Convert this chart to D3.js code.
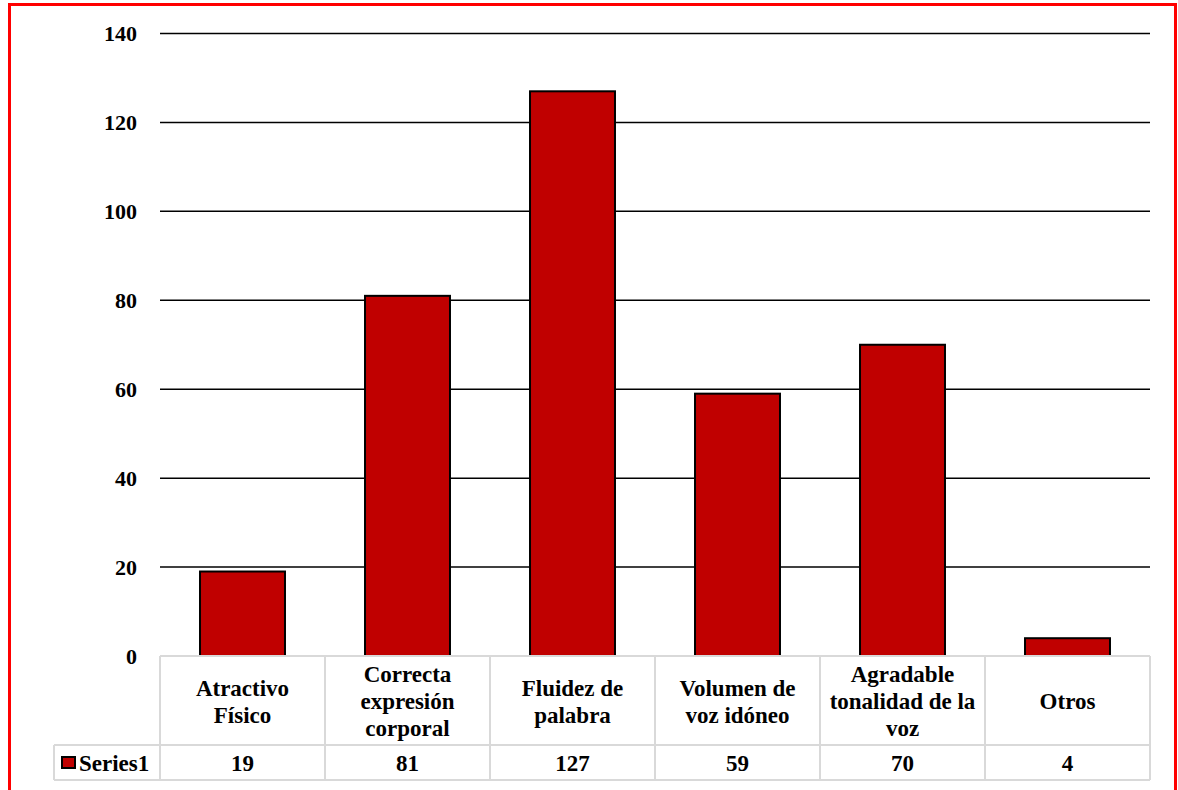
<!DOCTYPE html>
<html>
<head>
<meta charset="utf-8">
<script src="https://cdn.jsdelivr.net/npm/d3@7"></script>
<style>
  html, body { margin: 0; padding: 0; background: #fff; }
</style>
</head>
<body>
<svg id="chart" width="1178" height="790"></svg>
<script>
// Categories (wrapped into lines as shown in the data table)
const categories = [
  ["Atractivo", "Físico"],
  ["Correcta", "expresión", "corporal"],
  ["Fluidez de", "palabra"],
  ["Volumen de", "voz idóneo"],
  ["Agradable", "tonalidad de la", "voz"],
  ["Otros"]
];
const seriesName = "Series1";
const values = [19, 81, 127, 59, 70, 4];
const yTicks = [0, 20, 40, 60, 80, 100, 120, 140];

const FONT = "'Liberation Serif', 'Times New Roman', 'DejaVu Serif', serif";
const AXIS_FS = 22;
const TABLE_FS = 23;

const svg = d3.select("#chart")
  .attr("font-family", FONT)
  .attr("font-weight", "bold");

// Red frame around the whole chart area
svg.append("rect")
  .attr("x", 9.5).attr("y", 4.5)
  .attr("width", 1166).attr("height", 800)
  .attr("fill", "none").attr("stroke", "#ff0000").attr("stroke-width", 3);

const plot = { left: 160, right: 1150, top: 33.5, bottom: 656 };
const tableRow1 = 745, tableRow2 = 780, tableLeft = 54;

const keys = categories.map(c => c.join(" "));
const x = d3.scaleBand()
  .domain(keys)
  .range([plot.left, plot.right])
  .paddingInner(0.485)
  .paddingOuter(0.2425);
const col = d3.scaleBand().domain(keys).range([plot.left, plot.right]).padding(0);
const y = d3.scaleLinear().domain([0, 140]).range([plot.bottom, plot.top]);

// Horizontal gridlines
svg.append("g").selectAll("line")
  .data(yTicks.filter(t => t > 0))
  .join("line")
  .attr("x1", plot.left).attr("x2", plot.right)
  .attr("y1", d => y(d)).attr("y2", d => y(d))
  .attr("stroke", "#000").attr("stroke-width", 1.5);

// Y-axis labels
const yAxis = d3.axisLeft(y).tickValues(yTicks).tickSize(0).tickPadding(0);
const gy = svg.append("g").attr("transform", `translate(137,0)`).call(yAxis)
  .attr("font-family", FONT).attr("font-size", AXIS_FS);
gy.select(".domain").remove();
gy.selectAll("text").attr("fill", "#000");

// Bars
svg.append("g").selectAll("rect")
  .data(values)
  .join("rect")
  .attr("x", (d, i) => x(keys[i]))
  .attr("y", d => y(d))
  .attr("width", x.bandwidth())
  .attr("height", d => y(0) - y(d))
  .attr("fill", "#c00000")
  .attr("stroke", "#000")
  .attr("stroke-width", 2);

// Data table grid
const tg = svg.append("g").attr("stroke", "#d9d9d9").attr("stroke-width", 2).attr("fill", "none");
tg.append("line").attr("x1", plot.left).attr("x2", plot.right).attr("y1", plot.bottom).attr("y2", plot.bottom);
tg.append("line").attr("x1", tableLeft).attr("x2", plot.right).attr("y1", tableRow1).attr("y2", tableRow1);
tg.append("line").attr("x1", tableLeft).attr("x2", plot.right).attr("y1", tableRow2).attr("y2", tableRow2);
tg.append("line").attr("x1", tableLeft).attr("x2", tableLeft).attr("y1", tableRow1).attr("y2", tableRow2);
const colEdges = keys.map(k => col(k)).concat([plot.right]);
tg.selectAll("line.v").data(colEdges).join("line").attr("class", "v")
  .attr("x1", d => d).attr("x2", d => d)
  .attr("y1", plot.bottom).attr("y2", tableRow2);

// Category labels in table header row
const lineH = 27;
svg.append("g").selectAll("text")
  .data(categories)
  .join("text")
  .attr("text-anchor", "middle")
  .attr("font-size", TABLE_FS)
  .each(function(lines, i) {
    const cx = col(keys[i]) + col.bandwidth() / 2;
    const cy = (plot.bottom + tableRow1) / 2 + 0.5;
    const start = cy - (lines.length - 1) * lineH / 2;
    d3.select(this).selectAll("tspan").data(lines).join("tspan")
      .attr("x", cx)
      .attr("y", (l, j) => start + j * lineH)
      .attr("dy", "0.35em")
      .text(l => l);
  });

// Value row
svg.append("g").selectAll("text")
  .data(values)
  .join("text")
  .attr("text-anchor", "middle")
  .attr("x", (d, i) => col(keys[i]) + col.bandwidth() / 2)
  .attr("y", (tableRow1 + tableRow2) / 2 + 0.5)
  .attr("dy", "0.35em")
  .attr("font-size", TABLE_FS)
  .text(d => d);

// Legend key + series name
svg.append("rect")
  .attr("x", 62).attr("y", 757)
  .attr("width", 13).attr("height", 11)
  .attr("fill", "#c00000").attr("stroke", "#000").attr("stroke-width", 2);
svg.append("text")
  .attr("x", 79).attr("y", (tableRow1 + tableRow2) / 2 + 0.5)
  .attr("dy", "0.35em")
  .attr("font-size", TABLE_FS)
  .text(seriesName);
</script>
</body>
</html>
